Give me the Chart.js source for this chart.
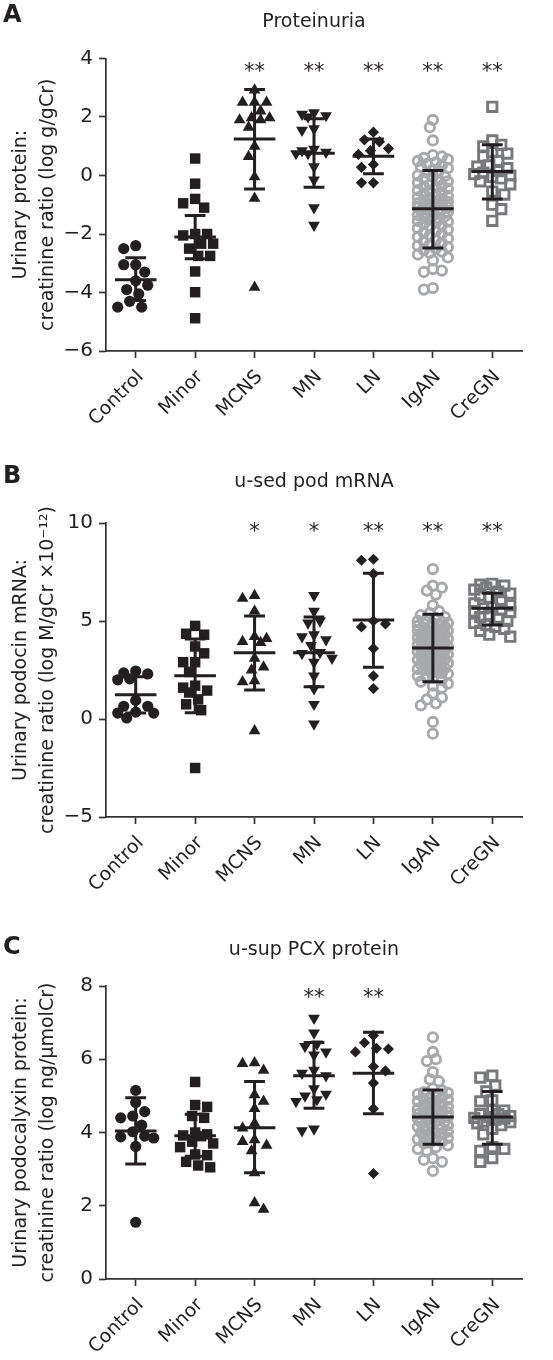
<!DOCTYPE html>
<html><head><meta charset="utf-8">
<script src="https://cdn.jsdelivr.net/npm/chart.js@4.4.0/dist/chart.umd.min.js"></script>
<style>
html,body{margin:0;padding:0;background:#fff;}
#wrap{position:relative;width:553px;height:1360px;overflow:hidden;}
canvas{position:absolute;left:0;}
</style></head><body>
<div id="wrap">
<canvas id="cA" width="553" height="450" style="top:0px"></canvas>
<canvas id="cB" width="553" height="455" style="top:450px"></canvas>
<canvas id="cC" width="553" height="455" style="top:905px"></canvas>
</div>
<script>
// ---------- categories ----------
const categories = ['Control','Minor','MCNS','MN','LN','IgAN','CreGN'];

// ---------- Panel A: Proteinuria ----------
const protTicks = [-6,-4,-2,0,2,4];
const protControl = [-2.4,-2.5,-3.05,-3.05,-3.3,-3.6,-3.75,-3.9,-4.05,-4.3,-4.5,-4.5];
const protMinor = [0.58,-0.28,-0.8,-0.95,-1.1,-2.0,-2.0,-2.05,-2.33,-2.33,-2.5,-2.75,-2.75,-3.28,-3.99,-4.88];
const protMCNS = [2.92,2.5,2.5,2.5,2.2,1.97,1.9,1.9,1.97,1.65,1.0,0.65,-0.05,-0.78,-3.82];
const protMN = [2.15,2.1,2.05,2.0,1.6,1.55,0.9,0.85,0.8,0.75,0.75,0.3,-0.15,-1.1,-1.7];
const protLN = [1.48,1.22,1.15,0.92,0.85,0.72,0.38,0.28,-0.25,-0.25];
const protIgAN = [1.9,1.65,1.2,0.7,0.65,0.6,0.55,0.5,0.45,0.4,0.35,0.3,0.25,0.2,0.15,0.1,0.0,-0.02,-0.05,-0.1,-0.15,-0.2,-0.25,-0.3,-0.35,-0.38,-0.4,-0.45,-0.5,-0.55,-0.6,-0.62,-0.65,-0.7,-0.75,-0.78,-0.8,-0.85,-0.88,-0.9,-0.95,-0.98,-1.0,-1.02,-1.05,-1.08,-1.1,-1.12,-1.15,-1.18,-1.2,-1.25,-1.28,-1.3,-1.35,-1.38,-1.4,-1.45,-1.48,-1.5,-1.55,-1.58,-1.6,-1.65,-1.7,-1.75,-1.8,-1.85,-1.9,-1.95,-2.0,-2.05,-2.1,-2.15,-2.2,-2.25,-2.3,-2.35,-2.4,-2.45,-2.5,-2.55,-2.6,-2.65,-2.7,-2.8,-2.9,-3.2,-3.25,-3.3,-3.85,-3.9];
const protCreGN = [2.35,1.2,1.05,1.0,0.8,0.75,0.65,0.5,0.35,0.3,0.25,0.15,0.1,0.05,0.0,-0.05,-0.1,-0.2,-0.3,-0.55,-0.65,-1.0,-1.15,-1.55];
const protMean = [-3.56,-2.1,1.25,0.76,0.66,-1.14,0.14];
const protHigh = [-2.81,-1.37,2.94,1.94,1.25,0.17,1.05];
const protLow  = [-4.27,-2.85,-0.46,-0.4,0.06,-2.48,-0.8];
const protStars = ['','','**','**','**','**','**'];

// ---------- Panel B: u-sed pod mRNA ----------
const podTicks = [-5,0,5,10];
const podControl = [2.45,2.35,2.3,2.05,2.0,0.95,0.65,0.65,0.35,0.3,0.3,0.05];
const podMinor = [4.75,4.35,4.3,3.7,3.35,2.9,2.9,2.4,1.7,1.6,1.45,1.35,1.0,0.75,0.45,-2.5];
const podMCNS = [6.3,6.15,5.5,4.2,4.1,3.95,3.9,3.1,2.65,2.5,1.95,1.9,-0.6];
const podMN = [6.3,5.5,5.0,4.9,4.3,4.2,4.05,3.75,3.4,3.35,3.1,2.9,2.2,1.55,0.75,-0.25];
const podLN = [8.15,8.1,7.4,5.0,4.85,4.7,3.6,2.2,1.55];
const podIgAN = [7.65,6.8,6.7,6.55,6.35,5.8,5.5,5.4,5.3,5.2,5.15,5.1,5.0,4.95,4.9,4.88,4.85,4.8,4.75,4.7,4.65,4.62,4.6,4.55,4.5,4.5,4.45,4.4,4.38,4.35,4.3,4.28,4.25,4.2,4.15,4.12,4.1,4.05,4.0,4.0,3.95,3.9,3.88,3.85,3.8,3.75,3.72,3.7,3.65,3.62,3.6,3.55,3.5,3.5,3.45,3.4,3.38,3.35,3.3,3.25,3.2,3.15,3.1,3.05,3.02,3.0,2.95,2.9,2.88,2.85,2.8,2.7,2.65,2.62,2.6,2.55,2.5,2.45,2.4,2.35,2.3,2.2,2.15,2.1,2.0,1.9,1.8,1.7,1.6,1.3,1.1,1.0,0.8,0.7,-0.15,-0.75];
const podCreGN = [6.9,6.85,6.8,6.7,6.6,6.5,6.4,6.3,6.2,6.0,5.9,5.8,5.7,5.65,5.6,5.5,5.45,5.3,5.2,5.1,5.0,4.9,4.8,4.7,4.6,4.5,4.3,4.2];
const podMean = [1.24,2.21,3.38,3.38,5.05,3.62,5.65];
const podHigh = [2.16,4.08,5.25,5.2,7.43,5.34,6.41];
const podLow  = [0.3,0.32,1.48,1.65,2.64,1.9,4.8];
const podStars = ['','','*','*','**','**','**'];

// ---------- Panel C: u-sup PCX protein ----------
const pcxTicks = [0,2,4,6,8];
const pcxControl = [5.15,4.82,4.57,4.45,4.4,4.2,4.02,3.9,3.88,3.85,3.62,1.55];
const pcxMinor = [5.38,4.75,4.7,4.45,4.4,4.0,3.95,3.92,3.9,3.75,3.7,3.6,3.4,3.38,3.2,3.1,3.05];
const pcxMCNS = [5.9,5.88,5.7,5.03,4.85,4.65,4.25,4.12,3.8,3.75,3.65,3.5,2.9,2.08,1.9];
const pcxMN = [7.12,6.72,6.42,6.35,6.2,6.12,5.7,5.62,5.55,5.2,5.05,5.0,4.9,4.85,4.1,4.05];
const pcxLN = [6.65,6.45,6.3,6.28,6.2,5.8,5.68,5.35,4.65,2.88];
const pcxIgAN = [6.6,6.2,6.0,5.95,5.65,5.45,5.4,5.2,5.15,5.1,5.08,5.05,5.0,4.95,4.95,4.92,4.9,4.85,4.85,4.8,4.78,4.75,4.7,4.68,4.65,4.62,4.6,4.58,4.55,4.52,4.5,4.5,4.48,4.45,4.42,4.4,4.4,4.38,4.35,4.3,4.3,4.28,4.25,4.22,4.2,4.18,4.15,4.12,4.1,4.05,4.02,4.0,3.98,3.95,3.9,3.88,3.85,3.82,3.8,3.75,3.72,3.7,3.65,3.6,3.55,3.5,3.3,3.25,3.2,2.95];
const pcxCreGN = [5.55,5.5,5.28,5.12,4.88,4.85,4.6,4.6,4.5,4.5,4.45,4.42,4.4,4.38,4.35,4.3,4.28,4.25,4.2,4.1,3.95,3.6,3.55,3.5,3.3,3.2];
const pcxMean = [4.04,3.91,4.13,5.55,5.62,4.42,4.42];
const pcxHigh = [4.95,4.5,5.39,6.46,6.74,5.16,5.12];
const pcxLow  = [3.14,3.35,2.9,4.66,4.51,3.68,3.68];
const pcxStars = ['','','','**','**','',''];

// ---------- styles ----------
const INK = '#231f20';
const groupStyles = [
  {pointStyle:'circle', radius:5.6, bg:INK, border:INK, bw:0, rot:0, D:11, maxOff:20},
  {pointStyle:'rect', radius:7.4, bg:INK, border:INK, bw:0, rot:0, D:11, maxOff:20},
  {pointStyle:'triangle', radius:6.8, bg:INK, border:INK, bw:0, rot:0, D:11, maxOff:20},
  {pointStyle:'triangle', radius:6.8, bg:INK, border:INK, bw:0, rot:180, D:11, maxOff:20},
  {pointStyle:'rectRot', radius:5.6, bg:INK, border:INK, bw:0, rot:0, D:11, maxOff:20},
  {pointStyle:'circle', radius:4.7, bg:'rgba(0,0,0,0)', border:'#a7a9ac', bw:2.9, rot:0, D:7.5, maxOff:17},
  {pointStyle:'rect', radius:6.6, bg:'rgba(0,0,0,0)', border:'#77787b', bw:2.9, rot:0, D:10, maxOff:19}
];
const FONT = '"DejaVu Sans", "Liberation Sans", Arial, sans-serif';
Chart.defaults.font.family = FONT;
Chart.defaults.color = INK;

function centeredText(ctx, text, x, y) {
  const m = ctx.measureText(text);
  const off = (m.actualBoundingBoxAscent - m.actualBoundingBoxDescent) / 2;
  ctx.textBaseline = 'alphabetic';
  ctx.fillText(text, x, y + off);
}

const overlayPlugin = {
  id: 'overlay',
  afterDatasetsDraw(chart, args, o) {
    const {ctx, chartArea} = chart;
    const x = chart.scales.x, y = chart.scales.y;
    const unit = x.getPixelForValue(1) - x.getPixelForValue(0);
    ctx.save();
    ctx.strokeStyle = INK;
    ctx.lineWidth = 3;
    o.mean.forEach((m, i) => {
      const cx = x.getPixelForValue(i);
      const hw = 0.35 * unit, cw = 0.175 * unit;
      const ym = y.getPixelForValue(m), yh = y.getPixelForValue(o.high[i]), yl = y.getPixelForValue(o.low[i]);
      ctx.beginPath();
      ctx.moveTo(cx - hw, ym); ctx.lineTo(cx + hw, ym);
      ctx.moveTo(cx, yh); ctx.lineTo(cx, yl);
      ctx.moveTo(cx - cw, yh); ctx.lineTo(cx + cw, yh);
      ctx.moveTo(cx - cw, yl); ctx.lineTo(cx + cw, yl);
      ctx.stroke();
    });
    ctx.fillStyle = INK;
    ctx.textAlign = 'center';
    ctx.font = '21px ' + FONT;
    o.stars.forEach((s, i) => { if (s) centeredText(ctx, s, x.getPixelForValue(i), y.getPixelForValue(o.starY)); });
    ctx.font = '19px ' + FONT;
    ctx.textBaseline = 'alphabetic';
    ctx.fillText(o.title, (chartArea.left + chartArea.right) / 2, o.titleBase);
    ctx.font = 'bold 24px ' + FONT;
    ctx.textAlign = 'left';
    centeredText(ctx, o.letter, 3, o.letterY);
    ctx.restore();
  }
};

function swarm(chart, groups) {
  const x = chart.scales.x, y = chart.scales.y;
  const unit = x.getPixelForValue(1) - x.getPixelForValue(0);
  const step = 3;
  return groups.map((vals, gi) => {
    const D = groupStyles[gi].D, maxOff = groupStyles[gi].maxOff;
    const placed = [];
    const out = new Array(vals.length);
    const order = vals.map((v, i) => i).sort((a, b) => vals[b] - vals[a]);
    let flip = 1;
    order.forEach(i => {
      const py = y.getPixelForValue(vals[i]);
      let best = 0, bestScore = -1, done = false;
      for (let k = 0; k * step <= maxOff && !done; k++) {
        const sgns = k === 0 ? [1] : [flip, -flip];
        for (const s of sgns) {
          const off = s * k * step;
          let md = Infinity;
          for (const p of placed) md = Math.min(md, Math.hypot(p[0] - off, p[1] - py));
          if (md >= D) { best = off; done = true; break; }
          if (md > bestScore) { bestScore = md; best = off; }
        }
      }
      flip = -flip;
      placed.push([best, py]);
      out[i] = {x: gi + best / unit, y: vals[i]};
    });
    return out;
  });
}

function makePanel(id, cfg) {
  const groups = cfg.groups;
  const datasets = groups.map((vals, gi) => {
    const st = groupStyles[gi];
    return {
      label: categories[gi],
      data: vals.map(v => ({x: gi, y: v})),
      pointStyle: st.pointStyle,
      pointRadius: st.radius,
      pointHoverRadius: st.radius,
      pointRotation: st.rot,
      pointBackgroundColor: st.bg,
      pointBorderColor: st.border,
      pointBorderWidth: st.bw,
      showLine: false,
      clip: false
    };
  });
  const chart = new Chart(document.getElementById(id), {
    type: 'scatter',
    data: {datasets},
    options: {
      responsive: false,
      animation: false,
      events: [],
      layout: {autoPadding: false, padding: {left: 0, top: cfg.top, right: 31, bottom: cfg.bottomPad}},
      plugins: {
        legend: {display: false}, tooltip: {enabled: false},
        overlay: cfg.overlay
      },
      scales: {
        x: {
          type: 'linear', min: -0.5, max: 6.5,
          afterBuildTicks: s => { s.ticks = categories.map((c, i) => ({value: i})); },
          afterFit: s => { s.height = 80; },
          grid: {drawOnChartArea: false, drawTicks: true, tickLength: 7, color: '#333', tickWidth: 1.7},
          border: {display: true, color: '#333', width: 1.7},
          ticks: {
            autoSkip: false, minRotation: 45, maxRotation: 45, padding: 8, labelOffset: 5,
            font: {size: 19, family: FONT}, color: INK,
            callback: v => categories[v]
          }
        },
        y: {
          type: 'linear', min: cfg.ticks[0], max: cfg.ticks[cfg.ticks.length - 1],
          afterBuildTicks: s => { s.ticks = cfg.ticks.map(v => ({value: v})); },
          afterFit: s => { s.width = 106; },
          grid: {drawOnChartArea: false, drawTicks: true, tickLength: 7, color: '#333', tickWidth: 1.7},
          border: {display: true, color: '#333', width: 1.7},
          ticks: {
            padding: 6, font: {size: 20, family: FONT}, color: INK,
            callback: v => (v < 0 ? '\u2212' + Math.abs(v) : String(v))
          },
          title: {
            display: true, text: cfg.yTitle, color: INK,
            font: {size: 19, family: FONT, lineHeight: 1.4},
            padding: {top: 8, bottom: 0}
          }
        }
      }
    },
    plugins: [overlayPlugin]
  });
  const pts = swarm(chart, groups);
  pts.forEach((arr, gi) => { chart.data.datasets[gi].data = arr; });
  chart.update('none');
  return chart;
}

makePanel('cA', {
  groups: [protControl, protMinor, protMCNS, protMN, protLN, protIgAN, protCreGN],
  ticks: protTicks, top: 58.5, bottomPad: 19,
  yTitle: ['Urinary protein:', 'creatinine ratio (log g/gCr)'],
  overlay: {mean: protMean, high: protHigh, low: protLow, stars: protStars, starY: 3.7,
            title: 'Proteinuria', titleBase: 27, letter: 'A', letterY: 13}
});
makePanel('cB', {
  groups: [podControl, podMinor, podMCNS, podMN, podLN, podIgAN, podCreGN],
  ticks: podTicks, top: 73, bottomPad: 8,
  yTitle: ['Urinary podocin mRNA:', 'creatinine ratio (log M/gCr \u00d710\u207b\u00b9\u00b2)'],
  overlay: {mean: podMean, high: podHigh, low: podLow, stars: podStars, starY: 9.8,
            title: 'u-sed pod mRNA', titleBase: 37, letter: 'B', letterY: 24}
});
makePanel('cC', {
  groups: [pcxControl, pcxMinor, pcxMCNS, pcxMN, pcxLN, pcxIgAN, pcxCreGN],
  ticks: pcxTicks, top: 81, bottomPad: 1,
  yTitle: ['Urinary podocalyxin protein:', 'creatinine ratio (log ng/\u03bcmolCr)'],
  overlay: {mean: pcxMean, high: pcxHigh, low: pcxLow, stars: pcxStars, starY: 7.8,
            title: 'u-sup PCX protein', titleBase: 50, letter: 'C', letterY: 40}
});
</script>
</body></html>
